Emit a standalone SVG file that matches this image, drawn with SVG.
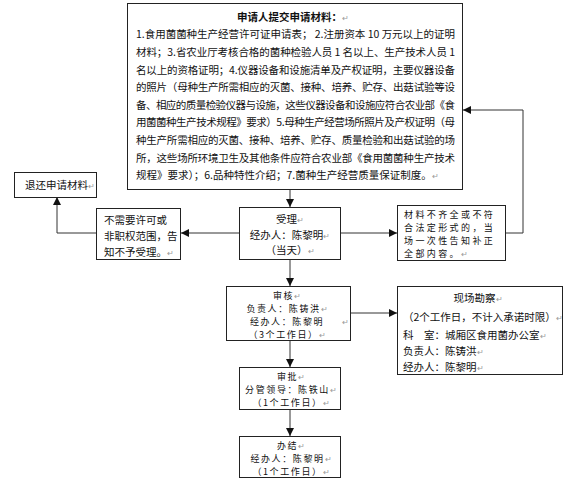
<svg xmlns="http://www.w3.org/2000/svg" width="572" height="480" viewBox="0 0 572 480">
<style>
  .box { fill: #ffffff; stroke: #222222; stroke-width: 1; }
  .t { font-family: "Noto Sans CJK SC", "Liberation Sans", sans-serif; font-size: 10.5px; fill: #111111; }
  .s { font-size: 9px; letter-spacing: 1.6px; }
  .c { text-anchor: middle; }
  .b { font-weight: bold; }
  .pm { fill: #999999; font-size: 8px; font-weight: normal; letter-spacing: 0; }
  .ln { fill: none; stroke: #333333; stroke-width: 1; }
</style>
<defs>
  <marker id="ah" viewBox="0 0 8 8" refX="8" refY="4" markerWidth="8" markerHeight="8" markerUnits="userSpaceOnUse" orient="auto">
    <path d="M0,0 L8,4 L0,8 Z" fill="#111111"/>
  </marker>
</defs>
<rect width="572" height="480" fill="#ffffff"/>

<g id="connectors">
  <path class="ln" d="M290,190 V207" marker-end="url(#ah)"/>
  <path class="ln" d="M239,233 H181" marker-end="url(#ah)"/>
  <path class="ln" d="M96,233 H57 V197" marker-end="url(#ah)"/>
  <path class="ln" d="M340,233 H397" marker-end="url(#ah)"/>
  <path class="ln" d="M505,233 H523 V110 H463" marker-end="url(#ah)"/>
  <path class="ln" d="M290,260 V286" marker-end="url(#ah)"/>
  <path class="ln" d="M350,313 H397" marker-end="url(#ah)"/>
  <path class="ln" d="M290,340 V367" marker-end="url(#ah)"/>
  <path class="ln" d="M290,409 V436" marker-end="url(#ah)"/>
</g>

<g id="apply">
  <rect class="box" x="127.5" y="3.5" width="335" height="186"/>
  <text class="t b c" x="293" y="21">申请人提交申请材料：<tspan class="pm">↵</tspan></text>
  <text class="t" x="136" y="38" textLength="319" lengthAdjust="spacing">1.食用菌菌种生产经营许可证申请表； 2.注册资本 10 万元以上的证明</text>
  <text class="t" x="136" y="56" textLength="319" lengthAdjust="spacing">材料；3.省农业厅考核合格的菌种检验人员 1 名以上、生产技术人员 1</text>
  <text class="t" x="136" y="74" textLength="319" lengthAdjust="spacing">名以上的资格证明；4.仪器设备和设施清单及产权证明，主要仪器设备</text>
  <text class="t" x="136" y="91" textLength="319" lengthAdjust="spacing">的照片（母种生产所需相应的灭菌、接种、培养、贮存、出菇试验等设</text>
  <text class="t" x="136" y="109" textLength="319" lengthAdjust="spacing">备、相应的质量检验仪器与设施，这些仪器设备和设施应符合农业部《食</text>
  <text class="t" x="136" y="126" textLength="319" lengthAdjust="spacing">用菌菌种生产技术规程》要求）5.母种生产经营场所照片及产权证明（母</text>
  <text class="t" x="136" y="144" textLength="319" lengthAdjust="spacing">种生产所需相应的灭菌、接种、培养、贮存、质量检验和出菇试验的场</text>
  <text class="t" x="136" y="162" textLength="319" lengthAdjust="spacing">所，这些场所环境卫生及其他条件应符合农业部《食用菌菌种生产技术</text>
  <text class="t" x="136" y="179">规程》要求）；6.品种特性介绍；7.菌种生产经营质量保证制度。<tspan class="pm">↵</tspan></text>
</g>

<g id="return">
  <rect class="box" x="14.5" y="172.5" width="82" height="25"/>
  <text class="t" x="25" y="189">退还申请材料<tspan class="pm">↵</tspan></text>
</g>

<g id="reject">
  <rect class="box" x="96.5" y="208.5" width="84" height="51"/>
  <text class="t" x="104" y="224">不需要许可或<tspan x="104" dy="16">非职权范围，告</tspan><tspan x="104" dy="16">知不予受理。</tspan><tspan class="pm">↵</tspan></text>
</g>

<g id="accept">
  <rect class="box" x="239.5" y="207.5" width="101" height="52"/>
  <text class="t c" x="290" y="223">受理<tspan class="pm">↵</tspan><tspan x="290" dy="15.5">经办人：陈黎明</tspan><tspan class="pm">↵</tspan><tspan x="290" dy="15.5">（当天）</tspan><tspan class="pm">↵</tspan></text>
</g>

<g id="incomplete">
  <rect class="box" x="397.5" y="205.5" width="108" height="55"/>
  <text class="t s" x="404" y="218" style="letter-spacing:2.4px">材料不齐全或不符<tspan x="404" dy="13">合法定形式的，当</tspan><tspan x="404" dy="13">场一次性告知补正</tspan><tspan x="404" dy="13">全部内容。</tspan><tspan class="pm">↵</tspan></text>
</g>

<g id="review">
  <rect class="box" x="226.5" y="286.5" width="124" height="54"/>
  <text class="t s c" x="287" y="298.5">审核<tspan class="pm">↵</tspan><tspan x="287" dy="13">负责人：陈铸洪</tspan><tspan class="pm">↵</tspan><tspan x="287" dy="13">经办人：陈黎明</tspan><tspan x="345" class="pm">↵</tspan><tspan x="287" dy="13">（3个工作日）</tspan><tspan class="pm">↵</tspan></text>
</g>

<g id="inspect">
  <rect class="box" x="397.5" y="286.5" width="165" height="88"/>
  <text class="t c" x="478" y="302">现场勘察<tspan class="pm">↵</tspan></text>
  <text class="t" x="403" y="321">（2个工作日，不计入承诺时限）<tspan class="pm">↵</tspan></text>
  <text class="t" x="403" y="339">科　室：城厢区食用菌办公室<tspan class="pm">↵</tspan></text>
  <text class="t" x="403" y="355">负责人：陈铸洪<tspan class="pm">↵</tspan></text>
  <text class="t" x="403" y="371">经办人：陈黎明<tspan class="pm">↵</tspan></text>
</g>

<g id="approve">
  <rect class="box" x="239.5" y="367.5" width="101" height="42"/>
  <text class="t s c" x="291" y="379.5">审批<tspan class="pm">↵</tspan><tspan x="291" dy="13">分管领导：陈铁山</tspan><tspan class="pm">↵</tspan><tspan x="291" dy="13">（1个工作日）</tspan><tspan class="pm">↵</tspan></text>
</g>

<g id="finish">
  <rect class="box" x="239.5" y="436.5" width="101" height="41"/>
  <text class="t s c" x="291" y="448.5">办结<tspan class="pm">↵</tspan><tspan x="291" dy="13">经办人：陈黎明</tspan><tspan class="pm">↵</tspan><tspan x="291" dy="13">（1个工作日）</tspan><tspan class="pm">↵</tspan></text>
</g>
</svg>
